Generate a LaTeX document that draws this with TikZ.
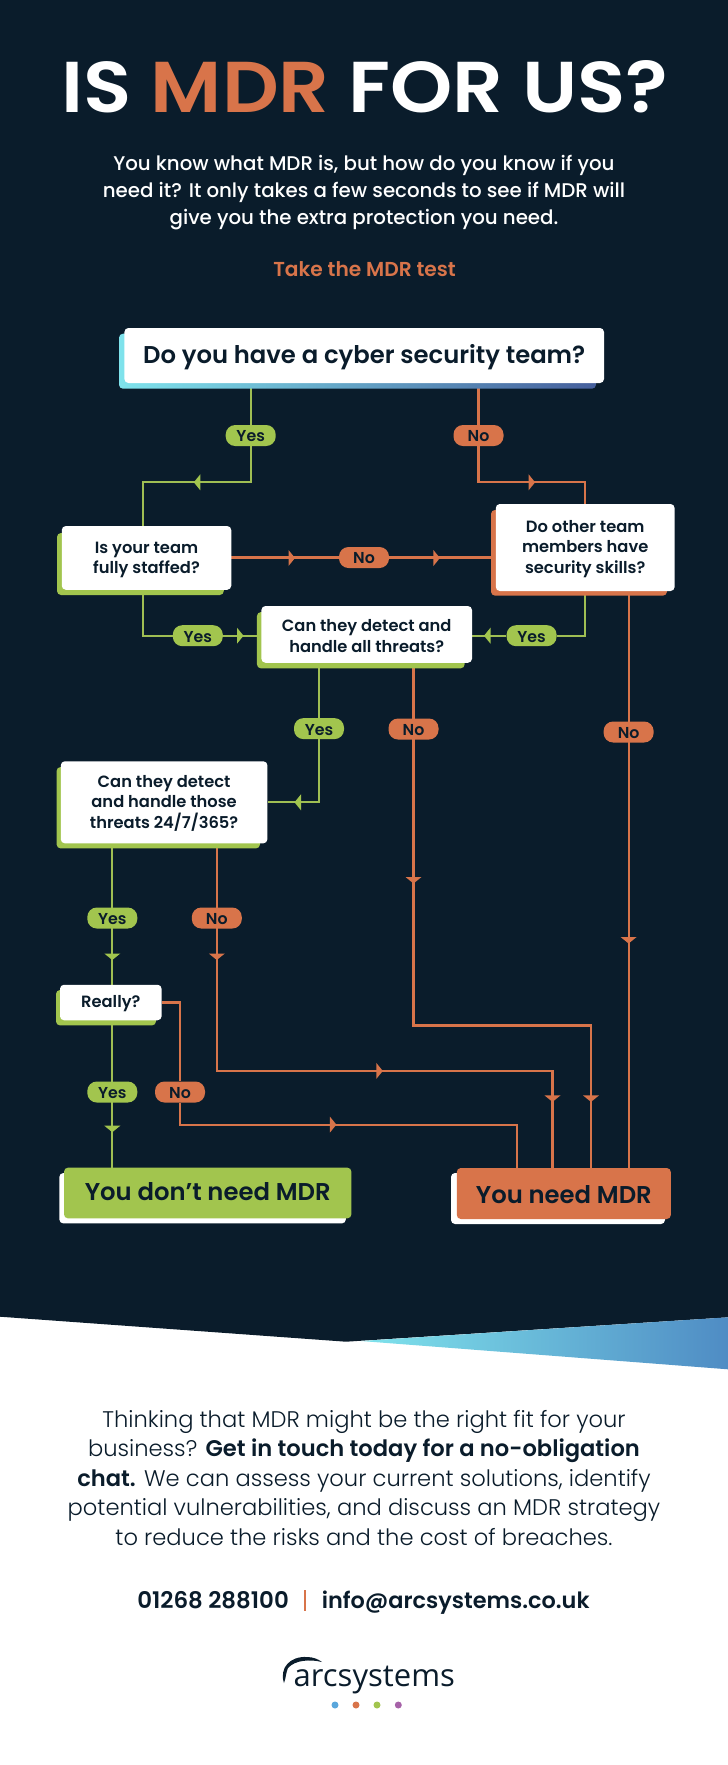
\documentclass[tikz,border=0pt]{standalone}
\usepackage{fontspec}
\setmainfont{Poppins}
\newfontfamily\medfont{Poppins Medium}
\newfontfamily\lightfont[BoldFont={Poppins SemiBold}]{Poppins Light}
\newfontfamily\headfont{Poppins SemiBold}
\newfontfamily\titlefont[FakeStretch=1.1]{Poppins SemiBold}
\newfontfamily\logofont{Open Sans}
\usetikzlibrary{backgrounds}

\definecolor{inkblue}{HTML}{0A1C2B}
\definecolor{rust}{HTML}{D8744A}
\definecolor{leaf}{HTML}{A2C54E}
\definecolor{skyfade}{HTML}{7FE3EC}
\definecolor{seafade}{HTML}{4F8CC4}
\definecolor{navyfade}{HTML}{465F9C}

\tikzset{
    askbox/.style={fill=white, text=inkblue, rounded corners=4pt, align=center, inner sep=0pt, font=\headfont\fontsize{16.3}{20.5}\selectfont},
    backbox/.style={rounded corners=4pt, inner sep=0pt},
    pill/.style={rounded corners=9.5pt, minimum width=50pt, minimum height=21pt, inner sep=0pt, text=inkblue, font=\headfont\fontsize{15.8}{16}\selectfont},
    yespill/.style={pill, fill=leaf},
    nopill/.style={pill, fill=rust},
    yesline/.style={draw=leaf!90!gray, line width=2.2pt},
    noline/.style={draw=rust, line width=2.2pt},
}
\newcommand{\lift}[2]{\rule[-#2pt]{0pt}{#1pt}}

\begin{document}
\begin{tikzpicture}[x=1pt, y=-1pt]

    \useasboundingbox (0,0) rectangle (728,1765);

    % Heading
    \node[anchor=base, text=white, font=\titlefont\fontsize{72}{72}\selectfont] (title) at (365,112.3) {IS \textcolor{rust}{MDR} FOR US?};
    \node[align=center, text=white, font=\medfont\fontsize{19.8}{26.6}\selectfont] (intro) at (364,192.5) {You know what MDR is, but how do you know if you\\need it? It only takes a few seconds to see if MDR will\\give you the extra protection you need.};
    \node[anchor=base, text=rust, font=\headfont\fontsize{20.2}{24}\selectfont] (taketest) at (364.5,276) {Take the MDR test};

    % Shadows behind the questions
    \node[backbox, left color=skyfade, middle color=seafade!70!skyfade, right color=navyfade, minimum width=477pt, minimum height=55pt] (backteam) at (357.5,361.2) {};
    \node[backbox, fill=leaf, minimum width=166.8pt, minimum height=62pt] (backstaff) at (140.4,564) {};
    \node[backbox, fill=rust, minimum width=176pt, minimum height=85.7pt] (backother) at (579,552.8) {};
    \node[backbox, fill=leaf, minimum width=207.7pt, minimum height=56.3pt] (backthreat) at (360.8,640.2) {};
    \node[backbox, fill=leaf, minimum width=203.4pt, minimum height=81.4pt] (backhours) at (158.3,807.7) {};
    \node[backbox, fill=leaf, minimum width=100pt, minimum height=35.4pt] (backreally) at (106,1007.7) {};
    \node[backbox, fill=white, minimum width=286.5pt, minimum height=50.4pt] (backno) at (202.6,1198.2) {};
    \node[backbox, fill=white, minimum width=214pt, minimum height=51pt] (backyes) at (558,1198.5) {};

    % Questions
    \node[askbox, minimum width=479.6pt, minimum height=55pt, font=\headfont\fontsize{24.3}{30}\selectfont] (askteam) at (364.2,355.5) {\lift{22}{0}Do you have a cyber security team?};
    \node[askbox, minimum width=169.5pt, minimum height=63.7pt] (askstaff) at (146.5,557.9) {\lift{15}{0}Is your team\\fully staffed?};
    \node[askbox, minimum width=178.8pt, minimum height=87pt] (askother) at (585.2,547.5) {\lift{15}{0}Do other team\\members have\\security skills?};
    \node[askbox, minimum width=210.6pt, minimum height=56.7pt] (askthreat) at (366.7,634.4) {\lift{15}{0}Can they detect and\\handle all threats?};
    \node[askbox, minimum width=206.6pt, minimum height=82pt] (askhours) at (164.1,802.3) {\lift{14}{0}Can they detect\\and handle those\\threats 24/7/365?};
    \node[askbox, minimum width=101.6pt, minimum height=35.5pt] (askreally) at (110.8,1002.5) {\lift{14}{0}Really?};

    % Answers
    \node[askbox, fill=leaf, minimum width=287.4pt, minimum height=50.7pt, font=\headfont\fontsize{24.3}{28}\selectfont] (endno) at (207.7,1193) {\lift{0}{3}You don’t need MDR};
    \node[askbox, fill=rust, minimum width=214pt, minimum height=51pt, font=\headfont\fontsize{24.3}{28}\selectfont] (endyes) at (563.8,1193.5) {\lift{20}{0}You need MDR};

    % Pills
    \node[yespill] (yesteam) at (250.7,435.5) {\lift{13}{0}Yes};
    \node[nopill] (noteam) at (478.5,435.5) {\lift{13}{0}No};
    \node[nopill] (nostaff) at (364,557.5) {\lift{13}{0}No};
    \node[yespill] (yesstaff) at (197.8,635.7) {\lift{13}{0}Yes};
    \node[yespill] (yesother) at (531.6,635.7) {\lift{13}{0}Yes};
    \node[yespill] (yesthreat) at (319,728.6) {\lift{13}{0}Yes};
    \node[nopill] (nothreat) at (413.5,729) {\lift{13}{0}No};
    \node[nopill] (noother) at (628.6,732) {\lift{13}{0}No};
    \node[yespill] (yeshours) at (112.3,918) {\lift{13}{0}Yes};
    \node[nopill] (nohours) at (216.8,918) {\lift{13}{0}No};
    \node[yespill] (yesreally) at (112.3,1092) {\lift{13}{0}Yes};
    \node[nopill] (noreally) at (180,1092) {\lift{13}{0}No};

    % Turning points
    \coordinate (turnyes) at (143,482.3);
    \coordinate (turnno) at (478.5,482.3);
    \coordinate (railthreat) at (591,1025.4);
    \coordinate (railhours) at (552.5,1070.9);
    \coordinate (railreally) at (517.2,1124.6);

    % Footer
    \node[align=center, text=inkblue, font=\lightfont\fontsize{22.6}{29.5}\selectfont] (pitch) at (364,1478) {Thinking that MDR might be the right fit for your\\business? \textbf{Get in touch today for a no-obligation}\\\textbf{chat.} We can assess your current solutions, identify\\potential vulnerabilities, and discuss an MDR strategy\\to reduce the risks and the cost of breaches.};
    \node[anchor=base east, text=inkblue, font=\headfont\fontsize{22.9}{26}\selectfont, inner sep=0pt] (phone) at (289,1608) {01268 288100};
    \node[anchor=base west, text=inkblue, font=\headfont\fontsize{22.4}{26}\selectfont, inner sep=0pt] (mail) at (321.6,1608) {info@arcsystems.co.uk};
    \node[anchor=base west, text=inkblue, inner sep=0pt, font=\logofont\fontsize{31}{36}\selectfont] (logo) at (293.5,1686.7) {arcsystems};

    \begin{pgfonlayer}{background}
        % Page
        \fill[white] (0,0) rectangle (728,1765);
        \fill[inkblue] (0,0) -- (728,0) -- (728,1317.3) -- (346,1341.7) -- (0,1316.7) -- cycle;
        \shade[left color=skyfade, right color=seafade] (361,1341) -- (728,1317.3) -- (728,1369.3) -- cycle;
        \fill[rust] (303.8,1590) rectangle (306.2,1610.7);
        \fill[inkblue] (284,1683) .. controls (279,1668) and (290,1656) .. (307,1657) .. controls (313,1657) and (318,1659) .. (322,1662) .. controls (310,1659) and (295,1660) .. (288,1668) .. controls (286,1672) and (286,1678) .. (284,1683) -- cycle;
        \foreach \x/\c in {335/5AA7DC, 356/D8744A, 377/A2C54E, 398.3/A662A8}{
            \definecolor{dotfill}{HTML}{\c}
            \fill[dotfill] (\x,1705) circle (3.5pt);
        }

        % Connectors, yes
        \draw[yesline] (yesteam |- askteam) -- (yesteam |- turnyes) -- (turnyes) -- (turnyes |- askstaff);
        \draw[yesline] (turnyes |- askstaff) |- (yesstaff) -- (yesstaff -| askthreat);
        \draw[yesline] (askother) |- (yesother) -- (yesother -| askthreat);
        \draw[yesline] (yesthreat |- askthreat) -- (yesthreat |- askhours) -- (askhours);
        \draw[yesline] (yeshours |- askhours) -- (yeshours |- askreally);
        \draw[yesline] (yesreally |- askreally) -- (yesreally |- endno);

        % Connectors, no
        \draw[noline] (noteam |- askteam) -- (turnno) -| (askother);
        \draw[noline] (nostaff -| askstaff) -- (nostaff -| askother);
        \draw[noline] (nothreat |- askthreat) |- (railthreat) -- (railthreat |- endyes);
        \draw[noline] (noother |- askother) -- (noother |- endyes);
        \draw[noline] (nohours |- askhours) |- (railhours) -- (railhours |- endyes);
        \draw[noline] (askreally) -| (noreally) |- (railreally) -- (railreally |- endyes);

        % Arrow marks on the lines
        \foreach \x/\y/\a in {197.3/482.3/180, 240/635.7/0, 487.5/635.7/180, 298/802.3/180, 112.3/956.5/-90, 112.3/1128.7/-90}{
            \fill[leaf, shift={(\x,\y)}, rotate=\a] (3.5,0) -- (-3,8) -- (-3,-8) -- cycle;
        }
        \foreach \x/\y/\a in {531.6/482.3/0, 291.5/558/0, 436.4/558/0, 413.5/880/-90, 628.6/940/-90, 216.8/956.5/-90, 379.3/1070.9/0, 332.9/1124.6/0, 552.5/1098.4/-90, 591/1098.4/-90}{
            \fill[rust, shift={(\x,\y)}, rotate=\a] (3.5,0) -- (-3,8) -- (-3,-8) -- cycle;
        }
    \end{pgfonlayer}

\end{tikzpicture}
\end{document}
